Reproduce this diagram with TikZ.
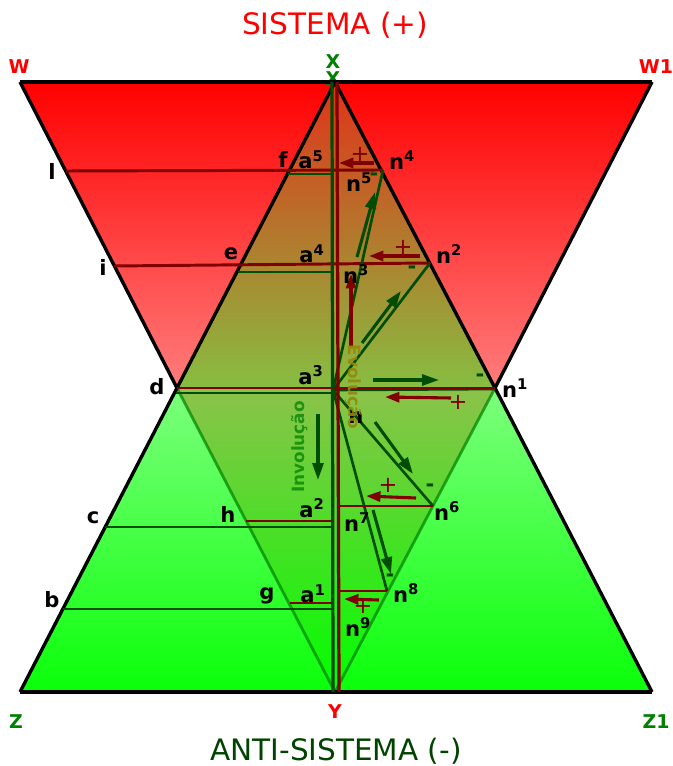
\documentclass[tikz,border=0pt]{standalone}
\usepackage{fontspec}
\setmainfont{DejaVu Sans}
\usetikzlibrary{arrows.meta, calc}

\definecolor{darkred}{RGB}{128,0,0}
\definecolor{darkgrn}{RGB}{0,77,0}
\definecolor{labgrn}{RGB}{0,128,0}
\definecolor{antigrn}{RGB}{0,68,0}
\definecolor{evogold}{RGB}{150,135,10}
\definecolor{redtop}{RGB}{255,0,0}
\definecolor{redlow}{RGB}{255,125,125}
\definecolor{grnhigh}{RGB}{125,255,125}
\definecolor{grnlow}{RGB}{10,255,10}
\definecolor{mixtop}{RGB}{225,50,25}
\definecolor{mixmid}{RGB}{135,190,65}
\definecolor{mixlow}{RGB}{0,255,0}

\begin{document}
\begin{tikzpicture}[
    x=0.025cm, y=-0.025cm,
    edge/.style={draw=black, line width=2.4pt, line join=round},
    redln/.style={draw=darkred, line width=2.1pt},
    grnln/.style={draw=darkgrn, line width=2.1pt},
    ray/.style={draw=darkgrn, line width=1.9pt},
    innerln/.style={draw=labgrn, line width=2pt, draw opacity=0.7},
    evo/.style={draw=darkgrn, line width=2.2pt, -{Triangle[length=0.42cm, width=0.27cm]}},
    back/.style={draw=darkred, line width=2.2pt, -{Triangle[length=0.36cm, width=0.25cm]}},
    pt/.style={font=\fontsize{15}{17}\selectfont\bfseries, inner sep=0pt},
    corner/.style={font=\fontsize{13.5}{15}\selectfont\bfseries, inner sep=0pt},
    title/.style={font=\fontsize{21}{25}\selectfont, inner sep=0pt},
    plus/.style={font=\fontsize{16}{18}\selectfont, text=darkred, inner sep=0pt},
    minus/.style={font=\fontsize{15}{17}\selectfont\bfseries, text=darkgrn, inner sep=0pt},
    way/.style={font=\fontsize{12}{14}\selectfont\bfseries, inner sep=0pt}
]
    \useasboundingbox (0,0) rectangle (672,766);

    % Corners and crossing
    \coordinate (W)  at (20,82);
    \coordinate (W1) at (652,82);
    \coordinate (Z)  at (20,692);
    \coordinate (Z1) at (652,692);
    \coordinate (X)  at (335,82);
    \coordinate (Y)  at (335,692);
    \coordinate (d)  at (177,388);
    \coordinate (n1) at (495,388);
    \coordinate (ctr) at (333,390);

    % Points on the sides
    \coordinate (l)  at (66,171);
    \coordinate (n4) at (383,170);
    \coordinate (f)  at (288,174);
    \coordinate (a5) at (332,174);
    \coordinate (i)  at (114,266);
    \coordinate (n2) at (430,263);
    \coordinate (e)  at (238,272);
    \coordinate (a4) at (332,272);
    \coordinate (dg) at (176,393);
    \coordinate (a3) at (332,393);
    \coordinate (h)  at (246,521);
    \coordinate (a2) at (332,521);
    \coordinate (c)  at (105,527);
    \coordinate (a2g) at (332,527);
    \coordinate (g)  at (290,603);
    \coordinate (a1) at (332,603);
    \coordinate (b)  at (63,609);
    \coordinate (a1g) at (332,609);
    \coordinate (n7) at (338,506);
    \coordinate (n6) at (433,506);
    \coordinate (n9) at (338,591);
    \coordinate (n8) at (387,591);

    % ===================== FILLS =====================
    \shade[top color=redtop, bottom color=redlow] (W) -- (W1) -- (n1) -- (d) -- cycle;
    \shade[top color=grnhigh, bottom color=grnlow] (d) -- (n1) -- (Z1) -- (Z) -- cycle;
    \shade[top color=mixtop, bottom color=mixmid] (X) -- (n1) -- (d) -- cycle;
    \shade[top color=mixmid!95!white, bottom color=mixlow] (d) -- (n1) -- (Y) -- cycle;

    \draw[innerln] (d) -- (Y);
    \draw[innerln] (n1) -- (Y);

    % second X under the top edge
    \node[corner, text=labgrn] (x2) at (333,79) {X};

    % ===================== OUTLINE =====================
    \draw[edge] (W) -- (W1);
    \draw[edge] (Z) -- (Z1);
    \draw[edge] (W) -- (d) -- (Z);
    \draw[edge] (W1) -- (n1) -- (Z1);
    \draw[edge] (d) -- (X) -- (n1);

    % Levels
    \draw[redln] (l) -- (n4);
    \draw[grnln] (f) -- (a5);
    \draw[redln] (i) -- (n2);
    \draw[grnln] (e) -- (a4);
    \draw[grnln] (dg) -- (a3);
    \draw[grnln] (c) -- (a2g);
    \draw[redln] (h) -- (a2);
    \draw[grnln] (b) -- (a1g);
    \draw[redln] (g) -- (a1);

    % Rays from the crossing
    \draw[ray] (ctr) -- ($(n1)+(0,1)$);
    \draw[ray] (ctr) -- (n2);
    \draw[ray] (ctr) -- (n4);
    \draw[ray] (ctr) -- (n6);
    \draw[ray] (ctr) -- (n8);
    \draw[redln] (d) -- (n1);
    \draw[redln] (n7) -- (n6);
    \draw[redln] (n9) -- (n8);

    % Axis
    \draw[grnln, line width=2.3pt] (332,82) -- (333,692);
    \draw[redln, line width=2.3pt] (337,82) -- (339,692);

    % ===================== ARROWS =====================
    \coordinate (e1s) at (357,257); \coordinate (e1t) at (375,192);
    \coordinate (e2s) at (362,343); \coordinate (e2t) at (401,291);
    \coordinate (e3s) at (373,380); \coordinate (e3t) at (439,380);
    \coordinate (e4s) at (375,422); \coordinate (e4t) at (413,474);
    \coordinate (e5s) at (373,510); \coordinate (e5t) at (391,574);
    \coordinate (ivs) at (318,414); \coordinate (ivt) at (318,480);
    \draw[evo] (e1s) -- (e1t);
    \draw[evo] (e2s) -- (e2t);
    \draw[evo] (e3s) -- (e3t);
    \draw[evo] (e4s) -- (e4t);
    \draw[evo] (e5s) -- (e5t);
    \draw[evo] (ivs) -- (ivt);

    \coordinate (r1s) at (374,163); \coordinate (r1t) at (339,163);
    \coordinate (r2s) at (420,256); \coordinate (r2t) at (369,256);
    \coordinate (r3s) at (451,398); \coordinate (r3t) at (385,397);
    \coordinate (r4s) at (416,498); \coordinate (r4t) at (366,496);
    \coordinate (r5s) at (379,600); \coordinate (r5t) at (344,599);
    \coordinate (rvs) at (351,346); \coordinate (rvt) at (351,274);
    \draw[back] (r1s) -- (r1t);
    \draw[back] (r2s) -- (r2t);
    \draw[back] (r3s) -- (r3t);
    \draw[back] (r4s) -- (r4t);
    \draw[back] (r5s) -- (r5t);
    \draw[back] (rvs) -- (rvt);

    % ===================== TEXTS =====================
    \node[title, text=redtop] (sis) at (335,25) {SISTEMA (+)};
    \node[title, text=antigrn] (anti) at (336,751) {ANTI-SISTEMA (-)};

    \node[corner, text=redtop] (tW) at (19,67) {W};
    \node[corner, text=redtop] (tW1) at (656,67) {W1};
    \node[corner, text=labgrn] (tX) at (333,62) {X};
    \node[corner, text=redtop] (tY) at (335,712) {Y};
    \node[corner, text=labgrn] (tZ) at (16,722) {Z};
    \node[corner, text=labgrn] (tZ1) at (656,722) {Z1};

    \node[pt] (tl) at (52,171) {l};
    \node[pt] (ti) at (103,267) {i};
    \node[pt] (td) at (157,387) {d};
    \node[pt] (tc) at (93,518) {c};
    \node[pt] (tb) at (52,600) {b};
    \node[pt] (tf) at (283,159) {f};
    \node[pt] (te) at (231,254) {e};
    \node[pt] (th) at (228,514) {h};
    \node[pt] (tg) at (267,596) {g};

    \node[pt] (ta5) at (311,160) {a\textsuperscript{5}};
    \node[pt] (ta4) at (312,254) {a\textsuperscript{4}};
    \node[pt] (ta3) at (311,375) {a\textsuperscript{3}};
    \node[pt] (ta2) at (312,508) {a\textsuperscript{2}};
    \node[pt] (ta1) at (313,594) {a\textsuperscript{1}};

    \node[pt] (tn4) at (402,160) {n\textsuperscript{4}};
    \node[pt] (tn5) at (359,182) {n\textsuperscript{5}};
    \node[pt] (tn2) at (449,254) {n\textsuperscript{2}};
    \node[pt] (tn3) at (356,274) {n\textsuperscript{3}};
    \node[pt] (tn1) at (515,388) {n\textsuperscript{1}};
    \node[pt] (tn)  at (356,418) {n};
    \node[pt] (tn6) at (447,511) {n\textsuperscript{6}};
    \node[pt] (tn7) at (357,522) {n\textsuperscript{7}};
    \node[pt] (tn8) at (406,593) {n\textsuperscript{8}};
    \node[pt] (tn9) at (358,627) {n\textsuperscript{9}};

    % signs
    \node[plus] (p4) at (360,154) {+};
    \node[minus] (m4) at (374,177) {-};
    \node[plus] (p2) at (403,247) {+};
    \node[minus] (m2) at (412,270) {-};
    \node[minus] (m1) at (480,378) {-};
    \node[plus] (p1) at (458,402) {+};
    \node[plus] (p6) at (388,485) {+};
    \node[minus] (m6) at (430,488) {-};
    \node[minus] (m8) at (390,578) {-};
    \node[plus] (p9) at (363,606) {+};

    \node[way, text=evogold, text opacity=0.9, rotate=-90] (evol) at (353,387) {Evolução};
    \node[way, text=labgrn, text opacity=0.75, rotate=90] (invol) at (300,447) {Involução};
\end{tikzpicture}
\end{document}
